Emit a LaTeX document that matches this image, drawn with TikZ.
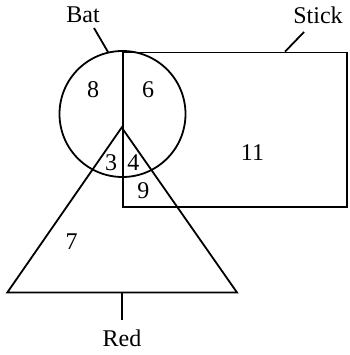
\documentclass[tikz,border=0pt]{standalone}
\usepackage{fontspec}
\setmainfont{Liberation Serif}
\begin{document}
\begin{tikzpicture}[x=1pt,y=1pt,
  shapeline/.style={line width=1.8pt,black},
  lbl/.style={font=\fontsize{24}{28}\selectfont,inner sep=0pt},
  num/.style={font=\fontsize{24}{28}\selectfont,inner sep=0pt}]
\useasboundingbox (0,0) rectangle (349,355);
% circle (Bat)
\node[shapeline,draw,circle,minimum size=126pt,inner sep=0pt] (batc) at (122.5,241) {};
% rectangle (Stick)
\node[shapeline,draw,rectangle,minimum width=224pt,minimum height=154.3pt,inner sep=0pt,anchor=north west] (stickr) at (121.7,303.3) {};
% triangle (Red)
\coordinate (apex) at (121.7,227.5);
\coordinate (bl) at (7.3,62.5);
\coordinate (br) at (237,62.5);
\coordinate (bm) at (121.7,62.5);
\draw[shapeline,line join=miter] (apex) -- (bl) -- (br) -- cycle;
% labels
\node[lbl] (bat) at (83,340) {Bat};
\node[lbl] (stick) at (318,340) {Stick};
\node[lbl] (red) at (122,17) {Red};
\coordinate (batend) at (108,303);
\coordinate (batstart) at (94,327);
\coordinate (stickend) at (285,303.3);
\coordinate (stickstart) at (304,323);
\coordinate (redend) at (121.7,35);
\draw[shapeline] (batstart) -- (batend);
\draw[shapeline] (stickstart) -- (stickend);
\draw[shapeline] (bm) -- (redend);
% region numbers
\node[num] (n8) at (93,265) {8};
\node[num] (n6) at (148,265) {6};
\node[num] (n3) at (111,192) {3};
\node[num] (n4) at (133.3,192) {4};
\node[num] (n9) at (143.3,164.3) {9};
\node[num] (n11) at (252.5,202) {11};
\node[num] (n7) at (71.7,113.3) {7};
\end{tikzpicture}
\end{document}
